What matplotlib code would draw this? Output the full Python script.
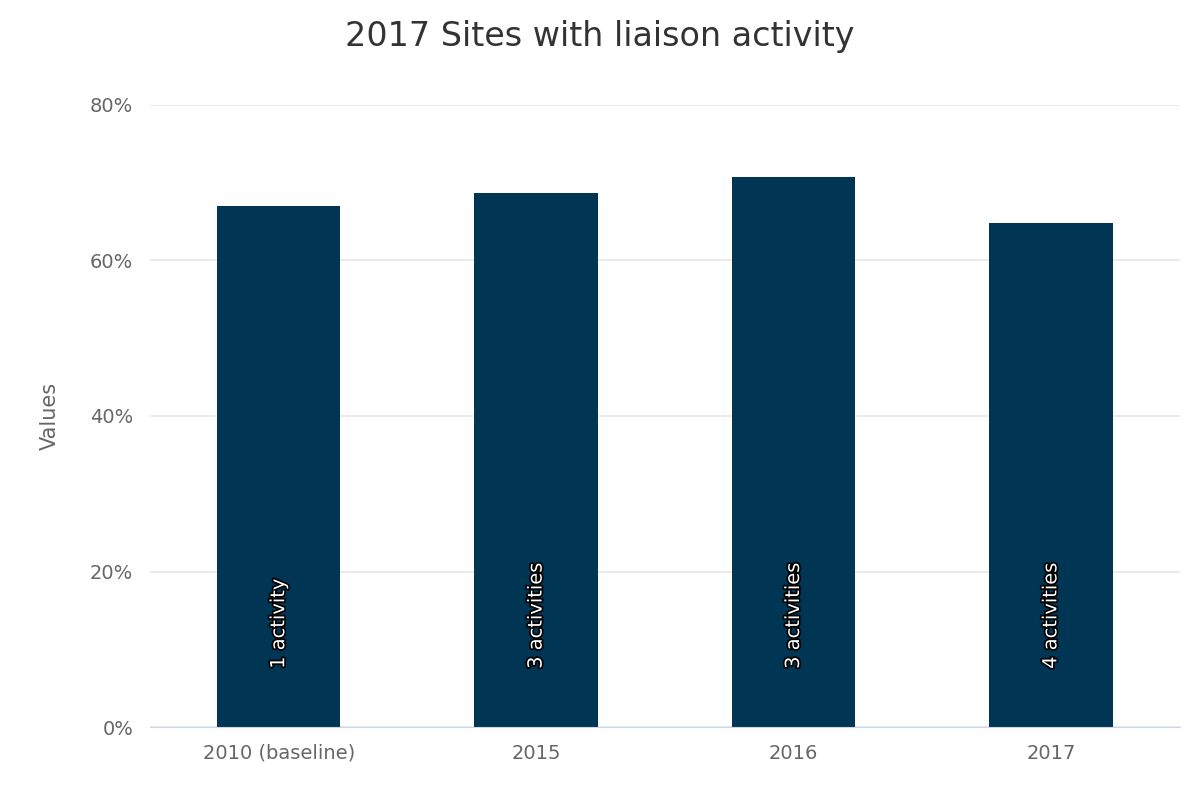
import matplotlib
matplotlib.use("Agg")
import matplotlib.pyplot as plt
import matplotlib.patheffects as pe
from matplotlib.ticker import FuncFormatter

categories = ["2010 (baseline)", "2015", "2016", "2017"]
values = [67, 68.6, 70.7, 64.8]
labels = ["1 activity", "3 activities", "3 activities", "4 activities"]

fig = plt.figure(figsize=(12, 8), dpi=100)
ax = fig.add_axes([0.125, 0.091, 0.858, 0.778])
x = range(len(categories))
ax.bar(x, values, width=0.48, color="#003554", zorder=2)
for xi, lab in zip(x, labels):
    t = ax.text(xi, 7.5, lab, rotation=90, ha="center", va="bottom", color="white",
                fontsize=14, zorder=3)
    t.set_path_effects([pe.withStroke(linewidth=2.5, foreground="black")])
ax.set_xlim(-0.5, 3.5)
ax.set_ylim(0, 80)
ax.set_yticks([0, 20, 40, 60, 80])
ax.yaxis.set_major_formatter(FuncFormatter(lambda v, p: f"{int(v)}%"))
ax.set_xticks(list(x))
ax.set_xticklabels(categories)
ax.grid(axis="y", color="#e6e6e6", linewidth=1.2, zorder=0)
for s in ["top", "right", "left"]:
    ax.spines[s].set_visible(False)
ax.spines["bottom"].set_color("#ccd6eb")
ax.tick_params(axis="both", length=0, labelsize=14, colors="#666666", pad=12)
ax.set_ylabel("Values", fontsize=15, color="#666666", labelpad=22)
fig.suptitle("2017 Sites with liaison activity", fontsize=24, color="#333333", y=0.975)
fig.savefig("out.png")
